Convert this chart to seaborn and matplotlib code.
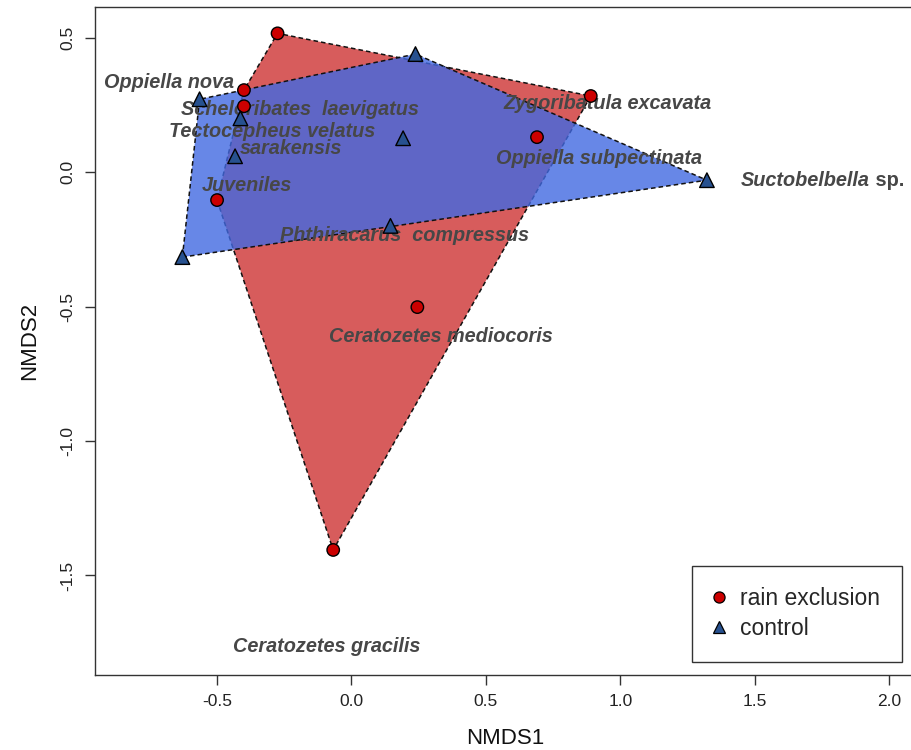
import numpy as np
import pandas as pd
import seaborn as sns
import matplotlib
matplotlib.use("Agg")
import matplotlib.pyplot as plt
from matplotlib.patches import Polygon
from matplotlib.lines import Line2D

# ---- data ----
rain_x = [-0.275, -0.40, -0.40, 0.89, 0.69, -0.50, 0.245, -0.068]
rain_y = [0.516, 0.305, 0.245, 0.283, 0.130, -0.104, -0.502, -1.405]
ctrl_x = [0.238, -0.565, -0.413, 0.192, -0.433, 1.322, 0.145, -0.629]
ctrl_y = [0.439, 0.271, 0.200, 0.126, 0.059, -0.030, -0.200, -0.316]

species = ["Oppiella nova", "Scheloribates  laevigatus", "Tectocepheus velatus",
           "sarakensis", "Juveniles", "Zygoribatula excavata",
           "Oppiella subpectinata", "Phthiracarus  compressus",
           "Ceratozetes mediocoris", "Ceratozetes gracilis"]
species_x = [-0.68, -0.19, -0.295, -0.224, -0.39, 0.951, 0.921, 0.196, 0.333, -0.093]
species_y = [0.335, 0.231, 0.152, 0.088, -0.048, 0.257, 0.052, -0.234, -0.613, -1.763]
suct_x, suct_y = 1.449, -0.030

groups = ["rain exclusion", "control"]
fill_cols = ["#cd3333", "#4169e1"]
pt_cols = ["#cc0000", "#27518f"]

df = pd.DataFrame({
    "NMDS1": rain_x + ctrl_x,
    "NMDS2": rain_y + ctrl_y,
    "group": [groups[0]] * len(rain_x) + [groups[1]] * len(ctrl_x),
})


def hull(xs, ys):
    pts = sorted(set(zip(xs, ys)))

    def cross(o, a, b):
        return (a[0] - o[0]) * (b[1] - o[1]) - (a[1] - o[1]) * (b[0] - o[0])
    lower, upper = [], []
    for p in pts:
        while len(lower) >= 2 and cross(lower[-2], lower[-1], p) <= 0:
            lower.pop()
        lower.append(p)
    for p in reversed(pts):
        while len(upper) >= 2 and cross(upper[-2], upper[-1], p) <= 0:
            upper.pop()
        upper.append(p)
    return np.array(lower[:-1] + upper[:-1])


sns.set_theme(style="white")
plt.rcParams["font.family"] = ["Liberation Sans", "DejaVu Sans"]

fig = plt.figure(figsize=(9.11, 7.5), dpi=100)
ax = fig.add_axes([95 / 911, 75 / 750, 820 / 911, 668 / 750])

for (gx, gy), fc in zip([(rain_x, rain_y), (ctrl_x, ctrl_y)], fill_cols):
    h = hull(gx, gy)
    ax.add_patch(Polygon(h, closed=True, facecolor=matplotlib.colors.to_rgba(fc, 0.8),
                         edgecolor="#111111", linestyle=(0, (3, 2)), linewidth=1.1,
                         zorder=1))

for s, x, y in zip(species, species_x, species_y):
    ax.text(x, y, s, ha="center", va="center", fontsize=14.3, fontweight="bold",
            fontstyle="italic", color="#474747", zorder=2)
t = ax.text(suct_x, suct_y, "Suctobelbella", ha="left", va="center", fontsize=14.3,
            fontweight="bold", fontstyle="italic", color="#474747", zorder=2)
ax.annotate(" sp.", xy=(1, 0.5), xycoords=t, ha="left", va="center", fontsize=14.3,
            fontweight="bold", color="#474747", zorder=2)

sns.scatterplot(data=df, x="NMDS1", y="NMDS2", hue="group", style="group",
                hue_order=groups, style_order=groups,
                palette=dict(zip(groups, pt_cols)),
                markers={"rain exclusion": "o", "control": "^"},
                size="group", sizes={"rain exclusion": 80, "control": 110},
                edgecolor="black", linewidth=1.0, legend=False, ax=ax, zorder=3)

ax.set_xlim(-0.954, 2.096)
ax.set_ylim(-1.870, 0.614)
ax.set_xticks([-0.5, 0.0, 0.5, 1.0, 1.5, 2.0])
ax.set_yticks([-1.5, -1.0, -0.5, 0.0, 0.5])
ax.set_xticklabels(["-0.5", "0.0", "0.5", "1.0", "1.5", "2.0"])
ax.set_yticklabels(["-1.5", "-1.0", "-0.5", "0.0", "0.5"], rotation=90, va="center")
ax.tick_params(axis="both", direction="out", length=7, width=1, color="#333333",
               labelsize=12.5, pad=7, labelcolor="#222222", left=True, bottom=True)
for sp in ax.spines.values():
    sp.set_color("#333333")
    sp.set_linewidth(1.0)
ax.set_xlabel("NMDS1", fontsize=16, labelpad=13, color="#111111")
ax.set_ylabel("NMDS2", fontsize=16, labelpad=15, color="#111111")

handles = [Line2D([], [], marker="o", linestyle="none", markersize=8,
                  markerfacecolor=pt_cols[0], markeredgecolor="black", markeredgewidth=0.9),
           Line2D([], [], marker="^", linestyle="none", markersize=9,
                  markerfacecolor=pt_cols[1], markeredgecolor="black", markeredgewidth=0.9)]
leg = ax.legend(handles, groups, loc="lower right", bbox_to_anchor=(0.984, 0.0195),
                borderaxespad=0, fontsize=16.5, frameon=True, fancybox=False,
                borderpad=0.95, labelspacing=0.3, handlelength=0.45, handletextpad=0.7)
leg.get_frame().set_edgecolor("black")
leg.get_frame().set_linewidth(1.0)
leg.set_zorder(5)

fig.savefig("out.png", dpi=100)
